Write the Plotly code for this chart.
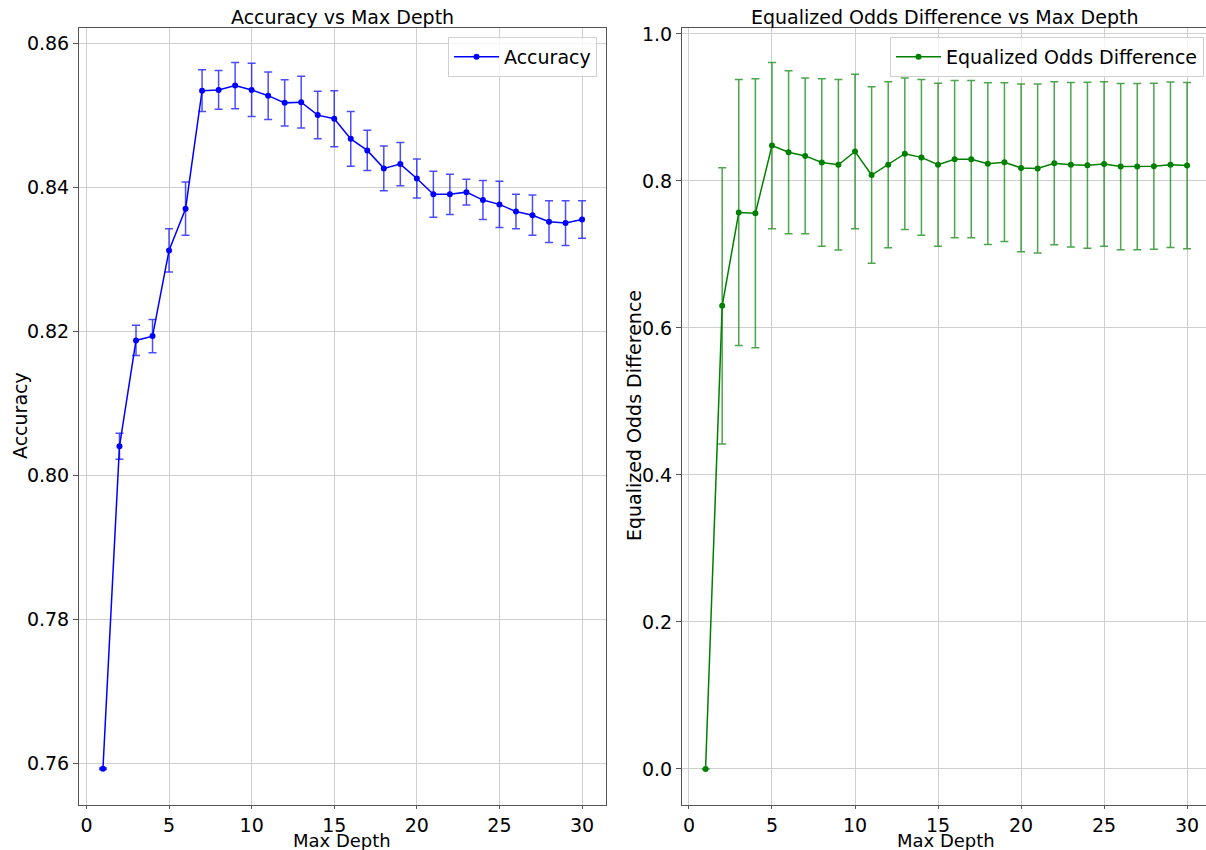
import plotly.graph_objects as go

depth = list(range(1, 31))
acc_mean = [0.7592, 0.8040, 0.8187, 0.8193, 0.8312, 0.8370, 0.8534, 0.8535, 0.8541, 0.8535,
            0.8527, 0.8517, 0.8518, 0.8500, 0.8495, 0.8467, 0.8451, 0.8426, 0.8432, 0.8412,
            0.8390, 0.8390, 0.8393, 0.8382, 0.8376, 0.8366, 0.8361, 0.8352, 0.8350, 0.8355]
acc_std = [0.0001, 0.0018, 0.0021, 0.0023, 0.0030, 0.0037, 0.0029, 0.0027, 0.0032, 0.0037,
           0.0033, 0.0032, 0.0036, 0.0033, 0.0039, 0.0038, 0.0028, 0.0031, 0.0030, 0.0027,
           0.0032, 0.0028, 0.0018, 0.0027, 0.0032, 0.0024, 0.0028, 0.0029, 0.0031, 0.0026]
eod_mean = [0.0, 0.630, 0.757, 0.756, 0.848, 0.839, 0.834, 0.825, 0.822, 0.840,
            0.808, 0.822, 0.837, 0.832, 0.822, 0.8295, 0.8295, 0.8235, 0.8254, 0.8177,
            0.8168, 0.824, 0.822, 0.8213, 0.823, 0.8195, 0.8195, 0.820, 0.822, 0.8208]
eod_std = [0.0, 0.188, 0.181, 0.183, 0.113, 0.111, 0.106, 0.114, 0.116, 0.105,
           0.120, 0.113, 0.103, 0.106, 0.111, 0.107, 0.107, 0.110, 0.108, 0.114,
           0.115, 0.111, 0.112, 0.113, 0.112, 0.113, 0.113, 0.113, 0.1125, 0.113]

W, H = 1206, 850
FONT = "DejaVu Sans"
FS = 19

fig = go.Figure()
fig.add_trace(go.Scatter(
    x=depth, y=acc_mean, mode="lines+markers", name="Accuracy",
    line=dict(color="blue", width=1.5), marker=dict(color="blue", size=6),
    error_y=dict(type="data", array=acc_std, visible=True, color="rgba(0,0,255,0.7)",
                 thickness=1.5, width=4),
    xaxis="x", yaxis="y", legend="legend"))
fig.add_trace(go.Scatter(
    x=depth, y=eod_mean, mode="lines+markers", name="Equalized Odds Difference",
    line=dict(color="green", width=1.5), marker=dict(color="green", size=6),
    error_y=dict(type="data", array=eod_std, visible=True, color="rgba(0,128,0,0.7)",
                 thickness=1.5, width=4),
    xaxis="x2", yaxis="y2", legend="legend2"))

ydom = [(H - 805) / H, (H - 28) / H]
axcommon = dict(showline=True, linecolor="#555", linewidth=1, mirror=True,
                ticks="outside", tickcolor="#555", automargin=False,
                showgrid=True, gridcolor="#cfcfcf", gridwidth=1, zeroline=False,
                tickfont=dict(family=FONT, size=FS, color="black"))


def ann(text, x, y, angle=0, size=FS):
    return dict(text=text, x=x / W, y=1 - y / H, xref="paper", yref="paper", showarrow=False,
                xanchor="center", yanchor="middle", textangle=angle, borderpad=0,
                font=dict(family=FONT, size=size))


fig.update_layout(
    template="none",
    width=W, height=H, margin=dict(l=0, r=0, t=0, b=0),
    paper_bgcolor="white", plot_bgcolor="white",
    font=dict(family=FONT, size=FS, color="black"),
    xaxis=dict(domain=[79 / W, 606 / W], range=[-0.45, 31.45], tickvals=[0, 5, 10, 15, 20, 25, 30],
               ticklen=3, anchor="y", **axcommon),
    yaxis=dict(domain=ydom, range=[0.75417, 0.8621], tickvals=[0.76, 0.78, 0.80, 0.82, 0.84, 0.86],
               tickformat=".2f", ticklen=5, anchor="x", **axcommon),
    xaxis2=dict(domain=[682 / W, 1.0], range=[-0.42, 31.14], tickvals=[0, 5, 10, 15, 20, 25, 30],
                ticklen=3, anchor="y2", **axcommon),
    yaxis2=dict(domain=ydom, range=[-0.049, 1.008], tickvals=[0.0, 0.2, 0.4, 0.6, 0.8, 1.0],
                tickformat=".1f", ticklen=5, anchor="x2", **axcommon),
    legend=dict(x=597 / W, y=1 - 37 / H, xanchor="right", yanchor="top", itemwidth=45,
                bordercolor="#d0d0d0", borderwidth=1, bgcolor="rgba(255,255,255,0.8)",
                font=dict(family=FONT, size=FS)),
    legend2=dict(x=1204 / W, y=1 - 37 / H, xanchor="right", yanchor="top", itemwidth=45,
                 bordercolor="#d0d0d0", borderwidth=1, bgcolor="rgba(255,255,255,0.8)",
                 font=dict(family=FONT, size=FS)),
    showlegend=True,
    annotations=[
        ann("Accuracy vs Max Depth", (79 + 606) / 2, 17),
        ann("Equalized Odds Difference vs Max Depth", 944, 17),
        ann("Max Depth", 342, 840, size=18),
        ann("Max Depth", 946, 840, size=18),
        ann("Accuracy", 20, 416, -90),
        ann("Equalized Odds Difference", 634, 416, -90),
    ],
)

fig.write_html("out.html")
